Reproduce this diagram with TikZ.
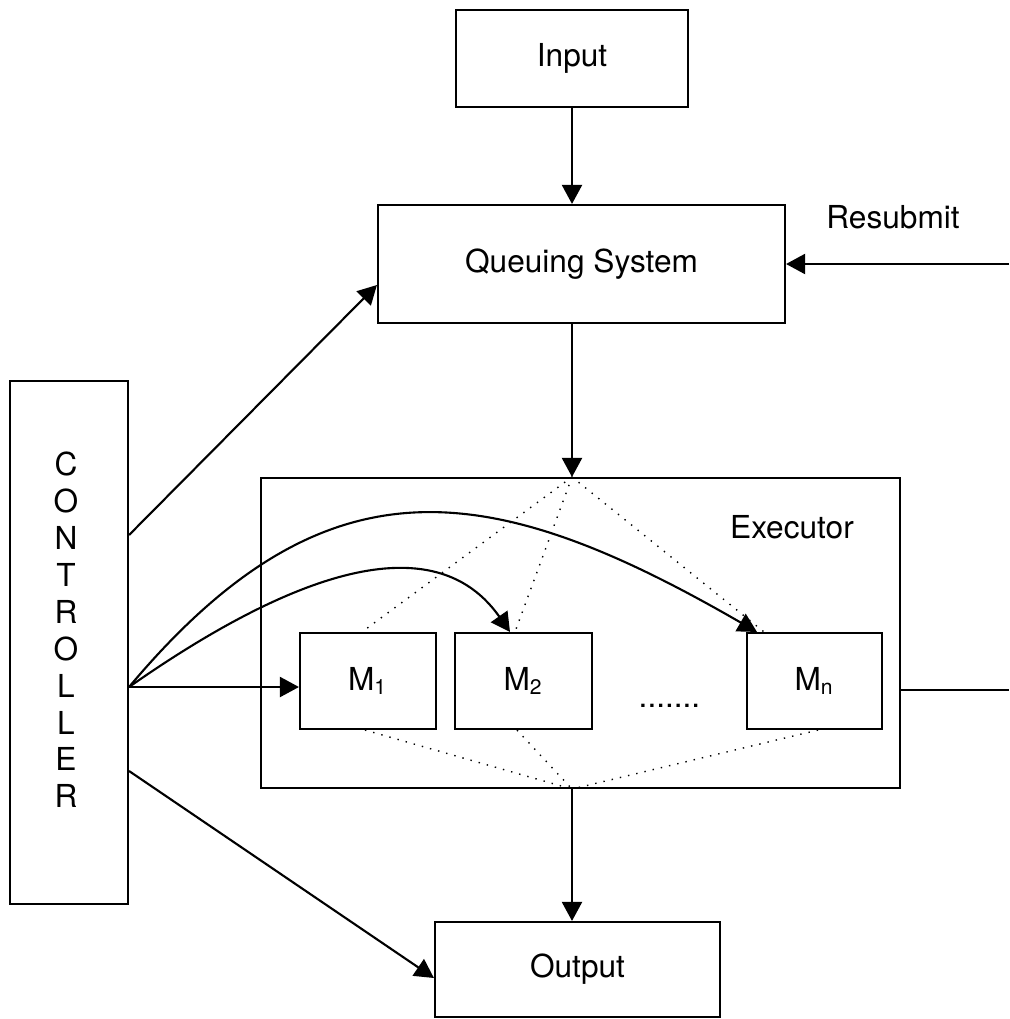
\documentclass[tikz,border=0pt]{standalone}
\usepackage{fontspec}
\setmainfont{TeX Gyre Heros}
\usetikzlibrary{positioning}
\usetikzlibrary{arrows.meta}
\usetikzlibrary{calc}
\usetikzlibrary{math}

\begin{document}
\begin{tikzpicture}[line width=0.6pt,font=\fontsize{9}{10.5}\selectfont,
  block/.style={draw, inner sep=0pt},
  arr/.style={-{Triangle[width=2mm,length=1.9mm]}},
  fan/.style={dotted, line width=0.4pt}]

  \tikzmath{
    \boxh = 0.96;  % height of the machine boxes
    \boxy = -6.81; % vertical position of the machines
  }

  \useasboundingbox (0,0) rectangle (10.09,-10.19);

  % main blocks
  \node[block, minimum width=2.32cm, minimum height=0.97cm] (input) at (5.72,-0.585) {Input};
  \node[block, minimum width=4.07cm, minimum height=1.18cm] (queue) at (5.815,-2.64) {Queuing System};
  \node[block, minimum width=6.39cm, minimum height=3.10cm] (exec) at (5.805,-6.33) {};
  \node[block, minimum width=2.85cm, minimum height=0.95cm] (output) at (5.775,-9.695) {Output};
  \node[block, minimum width=1.18cm, minimum height=5.23cm] (ctrl) at (0.69,-6.425) {};

  \node[align=center] (ctrltext) at (0.66,-6.30) {C\\O\\N\\T\\R\\O\\L\\L\\E\\R};
  \node (execlabel) at (7.92,-5.27) {Executor};
  \node (resublabel) at (8.93,-2.17) {Resubmit};

  % machines inside the executor
  \node[block, minimum width=1.36cm, minimum height=\boxh cm] (m1) at (3.68,\boxy) {M\textsubscript{1}};
  \node[block, minimum width=1.37cm, minimum height=\boxh cm] (m2) at (5.235,\boxy) {M\textsubscript{2}};
  \node[block, minimum width=1.35cm, minimum height=\boxh cm] (mn) at (8.145,\boxy) {M\textsubscript{n}};
  \node (dots) at (6.695,-7.06) {.......};

  % main flow
  \coordinate (fork) at (input.south |- exec.north);
  \coordinate (join) at (input.south |- exec.south);
  \draw[arr] (input.south) -- (input.south |- queue.north);
  \draw[arr] (input.south |- queue.south) -- (fork);
  \draw[arr] (join) -- (join |- output.north);

  \coordinate (resub) at (10.09,-2.64);
  \draw[arr] (resub) -- (queue.east);
  \coordinate (loop) at (10.09,-6.90);
  \draw (exec.east |- loop) -- (loop);

  % dispatch to and collect from the machines
  \draw[fan] (fork) -- ([xshift=-0.06cm]m1.north);
  \draw[fan] (fork) -- ([xshift=-0.085cm]m2.north);
  \draw[fan] (fork) -- ([xshift=-0.505cm]mn.north);
  \draw[fan] ([xshift=-0.03cm]m1.south) -- (join);
  \draw[fan] ([xshift=-0.065cm]m2.south) -- (join);
  \draw[fan] ([xshift=0.035cm]mn.south) -- (join);

  % controller links
  \coordinate (hub) at ([yshift=-0.445cm]ctrl.east);
  \draw[arr] ([yshift=1.075cm]ctrl.east) -- ([yshift=-0.21cm]queue.west);
  \draw[arr] (hub) -- (m1.west |- hub);
  \draw[arr] (hub) to[out=35,in=125] ([xshift=-0.135cm]m2.north);
  \draw[arr] (hub) to[out=50,in=150,looseness=1.25] ([xshift=-0.575cm]mn.north);
  \draw[arr] ([yshift=-1.285cm]ctrl.east) -- ([yshift=-0.085cm]output.west);

\end{tikzpicture}
\end{document}
